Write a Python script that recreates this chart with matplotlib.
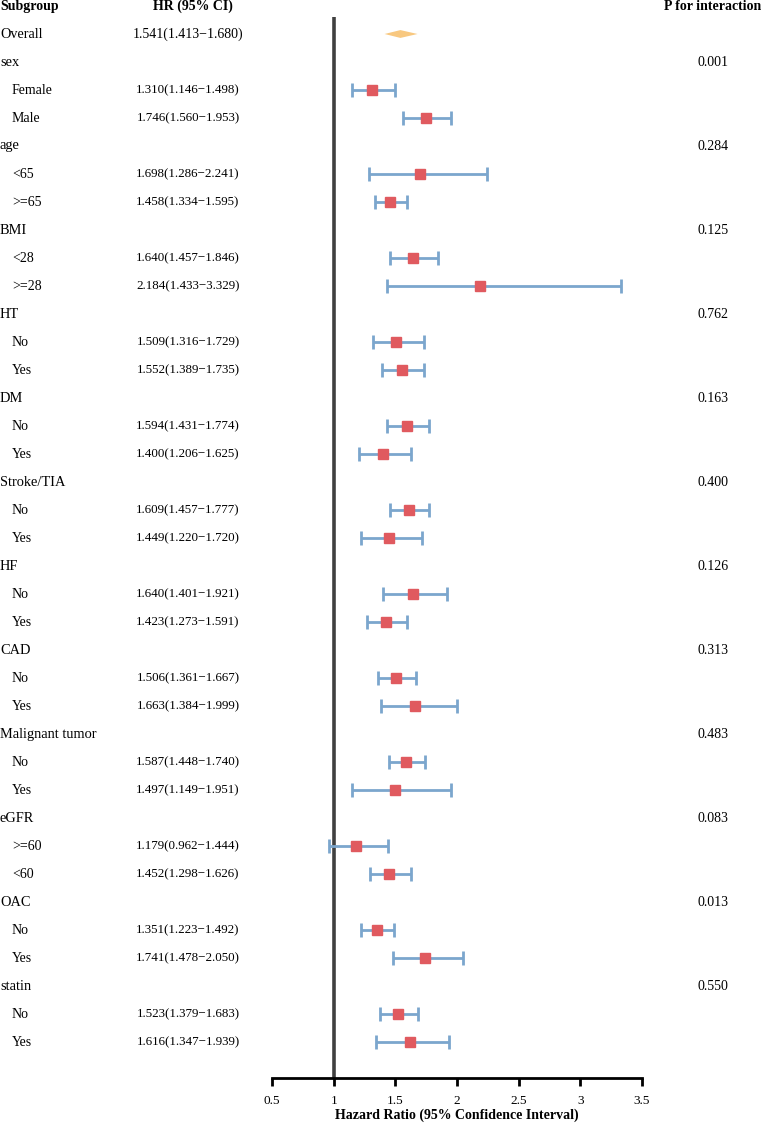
import numpy as np
import matplotlib.pyplot as plt
from matplotlib.transforms import blended_transform_factory

plt.rcParams['font.family'] = ['Liberation Serif', 'DejaVu Serif']

groups = ['sex', 'age', 'BMI', 'HT', 'DM', 'Stroke/TIA', 'HF', 'CAD',
          'Malignant tumor', 'eGFR', 'OAC', 'statin']
sub_labels = [['Female', 'Male'], ['<65', '>=65'], ['<28', '>=28'], ['No', 'Yes'],
              ['No', 'Yes'], ['No', 'Yes'], ['No', 'Yes'], ['No', 'Yes'],
              ['No', 'Yes'], ['>=60', '<60'], ['No', 'Yes'], ['No', 'Yes']]
hr = [[1.310, 1.746], [1.698, 1.458], [1.640, 2.184], [1.509, 1.552],
      [1.594, 1.400], [1.609, 1.449], [1.640, 1.423], [1.506, 1.663],
      [1.587, 1.497], [1.179, 1.452], [1.351, 1.741], [1.523, 1.616]]
lo = [[1.146, 1.560], [1.286, 1.334], [1.457, 1.433], [1.316, 1.389],
      [1.431, 1.206], [1.457, 1.220], [1.401, 1.273], [1.361, 1.384],
      [1.448, 1.149], [0.962, 1.298], [1.223, 1.478], [1.379, 1.347]]
hi = [[1.498, 1.953], [2.241, 1.595], [1.846, 3.329], [1.729, 1.735],
      [1.774, 1.625], [1.777, 1.720], [1.921, 1.591], [1.667, 1.999],
      [1.740, 1.951], [1.444, 1.626], [1.492, 2.050], [1.683, 1.939]]
p_int = ['0.001', '0.284', '0.125', '0.762', '0.163', '0.400', '0.126',
         '0.313', '0.483', '0.083', '0.013', '0.550']
overall = (1.541, 1.413, 1.680)
xticks = [0.5, 1, 1.5, 2, 2.5, 3, 3.5]

W, H = 761, 1123
fig = plt.figure(figsize=(W / 100, H / 100), dpi=100)

row0, step = 34, 28.0
ax_top, ax_bot = 17, 1078
ax = fig.add_axes([272 / W, 1 - ax_bot / H, (642 - 272) / W, (ax_bot - ax_top) / H])
ax.set_xlim(0.5, 3.5)
ax.set_ylim((ax_bot - row0) / step, (ax_top - row0) / step)

for s in ['top', 'right', 'left']:
    ax.spines[s].set_visible(False)
ax.spines['bottom'].set_linewidth(2)
ax.set_yticks([])
ax.set_xticks(xticks)
ax.set_xticklabels([f'{t:g}' for t in xticks], fontsize=9.5)
ax.tick_params(axis='x', length=6, width=2, pad=6)
ax.set_xlabel('Hazard Ratio (95% Confidence Interval)', fontsize=10, fontweight='bold', labelpad=1)

ax.axvline(1, color='#404040', lw=2.6, zorder=1)

tr = blended_transform_factory(fig.transFigure, ax.transData)
hr_x = 188 / W
p_x = 713 / W

# headers
hy = (0 - row0) / step
ax.text(0, hy, 'Subgroup', transform=tr, fontsize=10, fontweight='bold',
        va='top', ha='left', clip_on=False)
ax.text(193 / W, hy, 'HR (95% CI)', transform=tr, fontsize=10, fontweight='bold',
        va='top', ha='center', clip_on=False)
ax.text(1.0, hy, 'P for interaction', transform=tr, fontsize=10,
        fontweight='bold', va='top', ha='right', clip_on=False)

# overall
ov, ol, oh = overall
ax.fill([ol, ov, oh, ov], [0, -0.14, 0, 0.14], color='#F8C880', lw=0, zorder=3)
ax.text(0, 0, 'Overall', transform=tr, fontsize=10.2, va='center', ha='left')
ax.text(hr_x, 0, f'{ov:.3f}({ol:.3f}\u2212{oh:.3f})', transform=tr, fontsize=10,
        va='center', ha='center')

row = 1
for g, labs, hs, ls, us, p in zip(groups, sub_labels, hr, lo, hi, p_int):
    ax.text(0, row, g, transform=tr, fontsize=10.4, va='center', ha='left')
    ax.text(p_x, row, p, transform=tr, fontsize=10, va='center', ha='center')
    row += 1
    for lab, h, l, u in zip(labs, hs, ls, us):
        ax.text(12 / W, row, lab, transform=tr, fontsize=10, va='center', ha='left')
        ax.text(hr_x, row, f'{h:.3f}({l:.3f}\u2212{u:.3f})', transform=tr, fontsize=9.4,
                va='center', ha='center')
        ax.errorbar(h, row, xerr=[[h - l], [u - h]], fmt='none', ecolor='#7BA6CD',
                    elinewidth=2, capsize=5, capthick=2, zorder=2)
        ax.plot(h, row, 's', color='#E05A5F', markersize=6.5, zorder=4)
        row += 1

fig.savefig('out.png', dpi=100)
